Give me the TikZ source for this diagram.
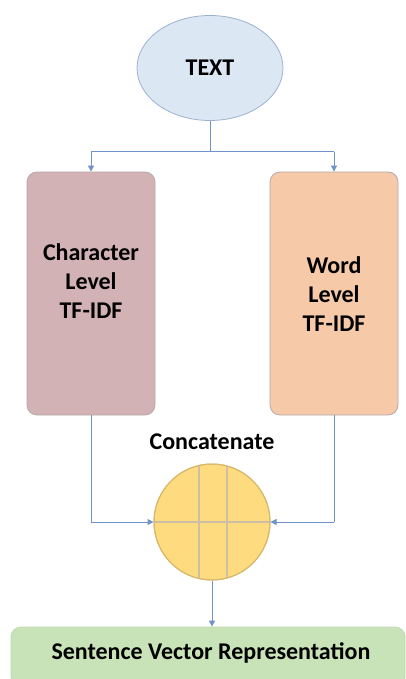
\documentclass[tikz,border=0pt]{standalone}
\usepackage{fontspec}
\setmainfont{Carlito}
\usetikzlibrary{arrows.meta,shapes.geometric,calc}
\definecolor{arrowc}{HTML}{6F93C6}
\definecolor{ellfill}{HTML}{DCE7F4}
\definecolor{elldraw}{HTML}{9CB3CF}
\definecolor{leftfill}{HTML}{D3B2B6}
\definecolor{rightfill}{HTML}{F6C9A8}
\definecolor{boxdraw}{HTML}{B5A9A9}
\definecolor{circfill}{HTML}{FFDB80}
\definecolor{circdraw}{HTML}{D8B868}
\definecolor{circline}{HTML}{CDBFA6}
\definecolor{greenfill}{HTML}{C9E3B8}
\definecolor{greendraw}{HTML}{C0D8B0}
\begin{document}
\begin{tikzpicture}[x=1pt,y=-1pt,
  lbl/.style={font=\fontsize{24}{29}\selectfont\bfseries, text=black, align=center},
  conn/.style={draw=arrowc, line width=1pt, -{Triangle[length=6pt,width=6pt]}},
  plain/.style={draw=arrowc, line width=1pt},
  tbox/.style={rounded corners=10pt, line width=0.8pt, minimum width=128pt, minimum height=243pt, inner sep=0pt}]
\useasboundingbox (0,0) rectangle (406,679);
\fill[white] (0,0) rectangle (406,679);
% ellipse
\node[ellipse, fill=ellfill, draw=elldraw, line width=0.8pt, minimum width=146pt, minimum height=105pt, inner sep=0pt] (txt) at (210,68) {};
\node[lbl] (txtl) at (txt.center) {TEXT};
% boxes
\node[tbox, fill=leftfill, draw=boxdraw] (left) at (91,293.5) {};
\node[lbl] (leftl) at (91,281) {Character\\Level\\TF-IDF};
\node[tbox, fill=rightfill, draw=boxdraw] (right) at (334,293.5) {};
\node[lbl] (rightl) at (334,294) {Word\\Level\\TF-IDF};
% circle
\node[circle, fill=circfill, draw=circdraw, line width=1pt, minimum size=116pt, inner sep=0pt] (cat) at (212,522) {};
\node[lbl] (catl) at (212,442) {Concatenate};
\draw[circline, line width=1.2pt] ($(cat.center)+(-13,-56.5)$) -- ($(cat.center)+(-13,56.5)$);
\draw[circline, line width=1.2pt] ($(cat.center)+(15,-56)$) -- ($(cat.center)+(15,56)$);
\draw[circline, line width=1.2pt] (cat.west) -- (cat.east);
\draw[circdraw, line width=1pt] (cat.center) circle (58pt);
% bottom
\node[rounded corners=10pt, fill=greenfill, draw=greendraw, line width=0.8pt, minimum width=394pt, minimum height=60pt, inner sep=0pt] (out) at (208,657) {};
\node[lbl] (outl) at (211,653) {Sentence Vector Representation};
% coordinates
\coordinate (split) at (txt.south |- 0,152);
\coordinate (lsplit) at (left.north |- 0,152);
\coordinate (rsplit) at (right.north |- 0,152);
\coordinate (ldown) at (left.south |- cat.west);
\coordinate (rdown) at (right.south |- cat.east);
\coordinate (outtop) at (cat.south |- out.north);
\draw[plain] (txt.south) -- (split);
\draw[plain] (lsplit) -- (rsplit);
\draw[conn] (lsplit) -- (left.north);
\draw[conn] (rsplit) -- (right.north);
\draw[plain] (left.south) -- (ldown);
\draw[conn] (ldown) -- (cat.west);
\draw[plain] (right.south) -- (rdown);
\draw[conn] (rdown) -- (cat.east);
\draw[conn] (cat.south) -- (outtop);
\end{tikzpicture}
\end{document}
